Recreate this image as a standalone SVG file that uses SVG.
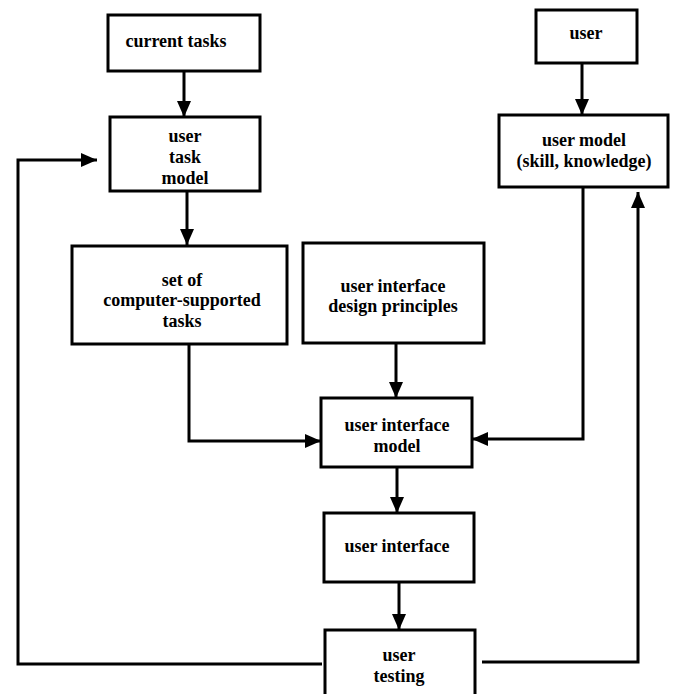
<svg xmlns="http://www.w3.org/2000/svg" width="673" height="694" viewBox="0 0 673 694">
  <style>
    .box { fill: #fff; stroke: #000; stroke-width: 3; }
    .lbl { font-family: "Liberation Serif", "Times New Roman", serif; font-weight: bold; font-size: 18px; fill: #000; text-anchor: middle; }
    .wire-arrow { fill: none; stroke: #000; stroke-width: 3; marker-end: url(#head); }
  </style>
  <defs>
    <marker id="head" markerUnits="userSpaceOnUse" markerWidth="16" markerHeight="14" viewBox="0 0 16 14" refX="16" refY="7" orient="auto">
      <path d="M0,0 L16,7 L0,14 Z" fill="#000"/>
    </marker>
  </defs>
  <rect width="673" height="694" fill="#fff"/>

  <!-- connectors -->
  <g id="connectors">
    <line class="wire-arrow" x1="184" y1="71" x2="184" y2="117"/>
    <line class="wire-arrow" x1="187" y1="191" x2="187" y2="245"/>
    <line class="wire-arrow" x1="582" y1="63" x2="582" y2="115"/>
    <line class="wire-arrow" x1="396" y1="343" x2="396" y2="398"/>
    <polyline class="wire-arrow" points="189,344 189,441 321,441"/>
    <polyline class="wire-arrow" points="583,187 583,439 472,439"/>
    <line class="wire-arrow" x1="397" y1="467" x2="397" y2="513"/>
    <line class="wire-arrow" x1="399" y1="582" x2="399" y2="630"/>
    <!-- feedback loops from user testing -->
    <polyline class="wire-arrow" points="322,664 18,664 18,160 97,160"/>
    <polyline class="wire-arrow" points="482,662 638,662 638,192"/>
  </g>

  <g id="current-tasks">
    <rect class="box" x="108" y="15" width="152" height="56"/>
    <text class="lbl" x="176" y="47">current tasks</text>
  </g>

  <g id="user-task-model">
    <rect class="box" x="110" y="117" width="150" height="74"/>
    <text class="lbl" x="185" y="142">user</text>
    <text class="lbl" x="185" y="163">task</text>
    <text class="lbl" x="185" y="184">model</text>
  </g>

  <g id="computer-supported-tasks">
    <rect class="box" x="72" y="246" width="215" height="98"/>
    <text class="lbl" x="182" y="286">set of</text>
    <text class="lbl" x="182" y="306">computer-supported</text>
    <text class="lbl" x="182" y="327">tasks</text>
  </g>

  <g id="design-principles">
    <rect class="box" x="303" y="243" width="181" height="100"/>
    <text class="lbl" x="393" y="292">user interface</text>
    <text class="lbl" x="393" y="312">design principles</text>
  </g>

  <g id="user">
    <rect class="box" x="536" y="10" width="101" height="53"/>
    <text class="lbl" x="586" y="39">user</text>
  </g>

  <g id="user-model">
    <rect class="box" x="499" y="115" width="169" height="72"/>
    <text class="lbl" x="584" y="146">user model</text>
    <text class="lbl" x="584" y="167">(skill, knowledge)</text>
  </g>

  <g id="user-interface-model">
    <rect class="box" x="321" y="398" width="151" height="69"/>
    <text class="lbl" x="397" y="431">user interface</text>
    <text class="lbl" x="397" y="452">model</text>
  </g>

  <g id="user-interface">
    <rect class="box" x="324" y="513" width="150" height="69"/>
    <text class="lbl" x="397" y="552">user interface</text>
  </g>

  <g id="user-testing">
    <rect class="box" x="325" y="630" width="150" height="80"/>
    <text class="lbl" x="399" y="661">user</text>
    <text class="lbl" x="399" y="682">testing</text>
  </g>
</svg>
